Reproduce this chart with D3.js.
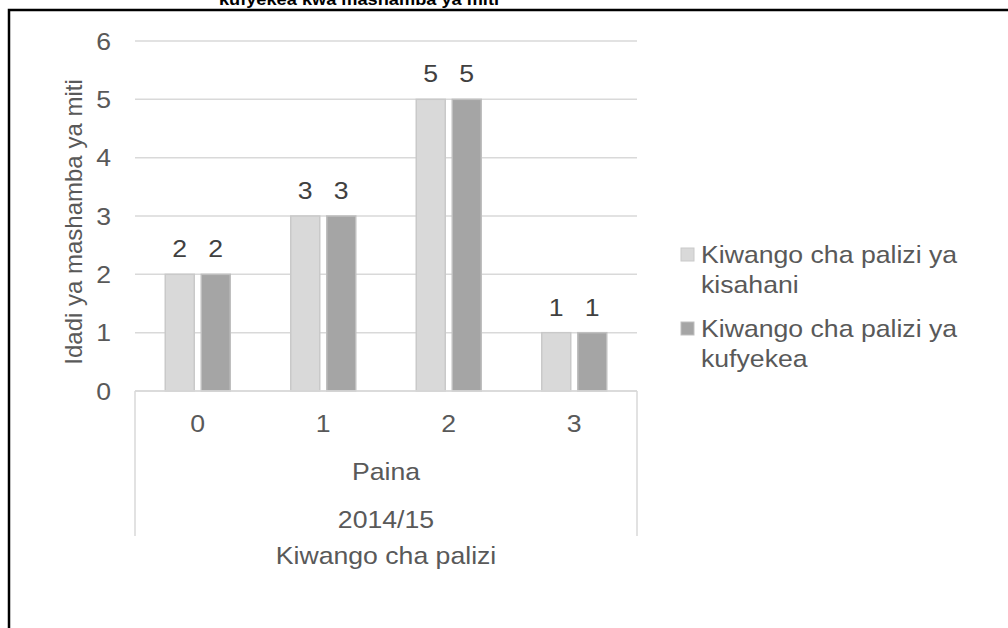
<!DOCTYPE html>
<html><head><meta charset="utf-8">
<script src="https://cdn.jsdelivr.net/npm/d3@7"></script>
<style>body{margin:0;background:#fff}svg{display:block}text{font-family:"Liberation Sans",Arial,sans-serif}</style>
</head><body><svg id="c" width="1008" height="628"></svg>
<script>
const categories = ["0","1","2","3"];
const seriesNames = ["Kiwango cha palizi ya kisahani","Kiwango cha palizi ya kufyekea"];
const kisahani = [2,3,5,1];
const kufyekea = [2,3,5,1];
const yTicks = [0,1,2,3,4,5,6];
const level2 = "Paina";
const level3 = "2014/15";
const xTitle = "Kiwango cha palizi";
const yTitle = "Idadi ya mashamba ya miti";
const title = "kufyekea kwa mashamba ya miti";

const svg = d3.select("#c");
const SX = 1.11, FS = 24;
const L=135,R=637,T=41,B=391;
const x = d3.scaleBand().domain(categories).range([L,R]);
const y = d3.scaleLinear().domain([0,6]).range([B,T]);
const fills=["#d9d9d9","#a5a5a5"], strokes=["#c9c9c9","#bfbfbf"];
const series=[kisahani,kufyekea];

function txt(g,x0,y0,t,anchor,opts={}){
  return g.append("text").attr("transform",`translate(${x0},${y0}) scale(${SX},1)`)
    .attr("text-anchor",anchor||"start").attr("font-size",opts.size||FS)
    .attr("font-weight",opts.weight||"normal").attr("fill",opts.fill||"#595959").text(t);
}

// outer frame
svg.append("path").attr("d","M9,640 V10 H1020").attr("fill","none").attr("stroke","#000").attr("stroke-width",2.5);
txt(svg,359,4.5,title,"middle",{size:16.4,weight:"bold",fill:"#000"});

// grid
svg.append("g").selectAll("line").data(yTicks).join("line")
 .attr("x1",L).attr("x2",R).attr("y1",d=>y(d)).attr("y2",d=>y(d))
 .attr("stroke","#d9d9d9").attr("stroke-width",1.5);
const yl=svg.append("g");
yTicks.forEach(d=>txt(yl,111,y(d)+8.5,d,"end"));

// bars
const bw=29, gap=7;
series.forEach((s,i)=>{
  const g=svg.append("g");
  g.selectAll("rect").data(s).join("rect")
   .attr("x",(d,j)=>x(categories[j])+x.bandwidth()/2-bw-gap/2+i*(bw+gap))
   .attr("y",d=>y(d)).attr("width",bw).attr("height",d=>y(0)-y(d))
   .attr("fill",fills[i]).attr("stroke",strokes[i]).attr("stroke-width",1.5);
  s.forEach((d,j)=>txt(g,x(categories[j])+x.bandwidth()/2-bw/2-gap/2+i*(bw+gap),y(d)-17,d,"middle",{fill:"#404040"}));
});

// axis line & multilevel
svg.append("line").attr("x1",L).attr("x2",R).attr("y1",B).attr("y2",B).attr("stroke","#d9d9d9").attr("stroke-width",1.5);
[L,R].forEach(v=>svg.append("line").attr("x1",v).attr("x2",v).attr("y1",B).attr("y2",536).attr("stroke","#d9d9d9").attr("stroke-width",1.5));
const xl=svg.append("g");
categories.forEach(d=>txt(xl,x(d)+x.bandwidth()/2,432,d,"middle"));
const cx=(L+R)/2;
txt(svg,cx,480,level2,"middle");
txt(svg,cx,528,level3,"middle");
txt(svg,cx,564,xTitle,"middle");
svg.append("text").attr("transform",`translate(82,222) rotate(-90)`).attr("text-anchor","middle").attr("font-size",FS).attr("fill","#595959").text(yTitle);

// legend
const lg=[["Kiwango cha palizi ya","kisahani"],["Kiwango cha palizi ya","kufyekea"]];
lg.forEach((lines,i)=>{
  const b0=263+i*74;
  svg.append("rect").attr("x",681).attr("y",b0-15).attr("width",13).attr("height",13).attr("fill",fills[i]).attr("stroke",strokes[i]).attr("stroke-width",1);
  lines.forEach((t,k)=>txt(svg,701,b0+k*30,t,"start"));
});
</script></body></html>
